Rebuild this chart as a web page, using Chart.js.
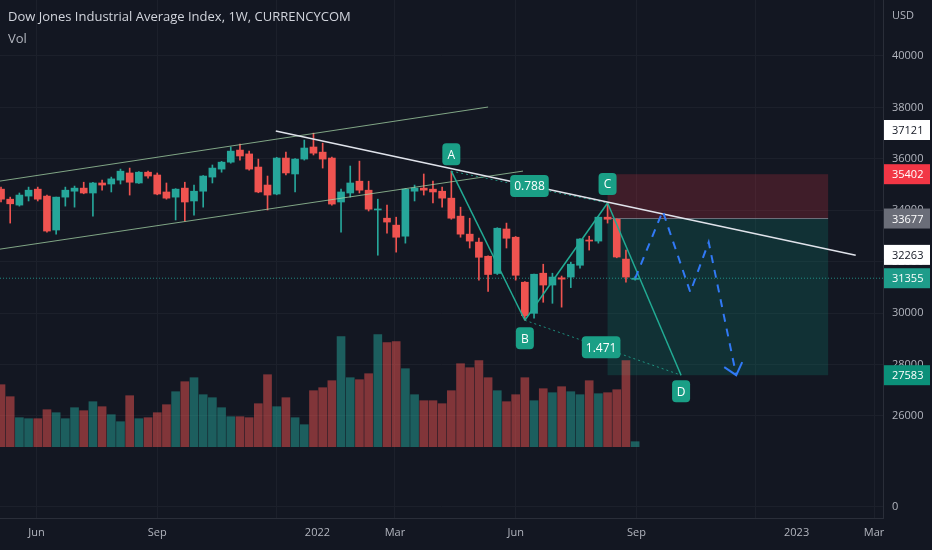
<!DOCTYPE html>
<html>
<head>
<meta charset="utf-8">
<title>Dow Jones 1W</title>
<script src="https://cdn.jsdelivr.net/npm/chart.js@4.4.1/dist/chart.umd.min.js"></script>
<style>
    html, body { margin: 0; padding: 0; background: #131722; }
    #wrap { position: relative; width: 932px; height: 550px; }
</style>
</head>
<body>
<div id="wrap"><canvas id="DowChart"></canvas></div>
<script>
// weekly bars, bar 0 sits on this date on the time axis
const firstWeek = Date.UTC(2021, 4, 5);

const opens = [
    34820, 34430, 34200, 34550, 34820, 34550, 33230, 34510, 34740, 34860,
    34670, 35060, 35020, 35170, 35450, 35060, 35480, 35370, 34710, 34510,
    34860, 34360, 34740, 35290, 35600, 35870, 36340, 36190, 35680, 34980,
    34630, 36030, 35410, 35990, 36460, 36260, 36030, 34320, 34670, 35130,
    34780, 34010, 33690, 33420, 32990, 34740, 34860, 34820, 34740, 34470,
    33770, 33070, 32760, 32210, 31540, 33270, 32950, 31200, 29990, 31550,
    31090, 31370, 31400, 31860, 32840, 32800, 33730, 33650, 32100, 31310
];
const highs = [
    34900, 34510, 34670, 34900, 34900, 34590, 34510, 34900, 34940, 35090,
    35090, 35170, 35290, 35600, 35640, 35500, 35520, 35450, 35060, 34840,
    35090, 34980, 35350, 35760, 35900, 36460, 36570, 36300, 35990, 35330,
    36060, 36260, 36010, 36730, 37000, 36610, 36070, 34820, 35720, 35910,
    35130, 34430, 34200, 33730, 34840, 34980, 35410, 35130, 34900, 35520,
    34120, 33690, 32920, 32230, 33320, 33500, 32980, 31220, 31520, 31900,
    31550, 31440, 31980, 32900, 32990, 33750, 34280, 33670, 32450, 31420
];
const lows = [
    34320, 33500, 34160, 34360, 34360, 33150, 33070, 34160, 34120, 34640,
    33770, 34780, 34710, 35020, 34590, 35040, 35250, 34600, 34430, 33620,
    33580, 33810, 34120, 35060, 35480, 35830, 35950, 35560, 34680, 34010,
    34600, 35370, 34710, 35950, 36150, 35640, 34200, 33150, 34510, 34670,
    33970, 32250, 33110, 32370, 32720, 34360, 34590, 34280, 34120, 33650,
    32950, 32530, 31280, 30840, 31500, 32530, 31280, 29720, 29800, 30420,
    30380, 30230, 30990, 31750, 32450, 32720, 33500, 32150, 31200, 31280
];
const closes = [
    34430, 34250, 34590, 34780, 34430, 33190, 34510, 34780, 34860, 34670,
    35060, 34980, 35220, 35520, 35090, 35480, 35330, 34630, 34470, 34820,
    34320, 34740, 35330, 35640, 35870, 36300, 36110, 35600, 34710, 34590,
    36030, 35450, 35990, 36420, 36220, 35990, 34240, 34710, 35060, 34780,
    34040, 34050, 33540, 32950, 34820, 34860, 34780, 34710, 34470, 33690,
    33070, 32800, 32170, 31500, 33300, 32910, 31470, 29900, 31510, 31090,
    31400, 31320, 31900, 32880, 32800, 33730, 33650, 32180, 31400, 31355
];
const volumes = [
    62, 50, 29, 28, 28, 37, 34, 28, 39, 36,
    45, 40, 32, 25, 51, 28, 29, 34, 42, 55,
    65, 69, 52, 49, 39, 30, 30, 29, 43, 72,
    40, 49, 29, 22, 56, 59, 66, 110, 69, 67,
    73, 112, 104, 105, 78, 52, 46, 46, 43, 56,
    83, 79, 86, 69, 56, 45, 52, 69, 46, 58,
    54, 60, 55, 52, 66, 53, 54, 57, 86, 5
];

// time axis: label and whether a grid line is drawn there
const timeTicks = [
    { date: "2021-06-01", label: "Jun", grid: true },
    { date: "2021-09-01", label: "Sep", grid: true },
    { date: "2021-12-01", label: "", grid: true },
    { date: "2022-01-01", label: "2022", grid: false },
    { date: "2022-03-01", label: "Mar", grid: true },
    { date: "2022-06-01", label: "Jun", grid: true },
    { date: "2022-09-01", label: "Sep", grid: true },
    { date: "2022-12-01", label: "", grid: true },
    { date: "2023-01-01", label: "2023", grid: false },
    { date: "2023-03-01", label: "Mar", grid: true }
];
const priceTicks = [26000, 28000, 30000, 32000, 34000, 36000, 38000, 40000];
const zeroTick = 22480; // the stray "0" line under the volume pane

// tags on the price axis
const axisTags = [
    { value: 37121, bg: "#ffffff", fg: "#131722" },
    { value: 35402, bg: "#f23645", fg: "#ffffff" },
    { value: 33677, bg: "#6a6d78", fg: "#ffffff" },
    { value: 32263, bg: "#ffffff", fg: "#131722" },
    { value: 31355, bg: "#1e9c8a", fg: "#ffffff" },
    { value: 27583, bg: "#0b9079", fg: "#ffffff" }
];
const lastPrice = 31355;

// drawings, in [bar index, price]
const channelTop = [[-0.11, 35134], [53.0, 38015]];
const channelBottom = [[-0.11, 32487], [56.8, 35523]];
const trendLine = [[29.9, 37080], [93.0, 32253]];
const patternNames = ["A", "B", "C", "D"];
const patternPoints = [[49, 35520], [57, 29720], [66, 34280], [74, 27583]];
const ratioTags = [
    { text: "0.788", at: [57.5, 34940] },
    { text: "1.471", at: [65.3, 28670] }
];
const shortPosition = { from: 66, to: 90, stop: 35402, entry: 33677, target: 27583 };
const projection = [[69, 31345], [72, 33966], [75, 30813], [77, 32759], [80, 27583]];

const upColor = "#26a69a";
const downColor = "#ef5350";
const tagGreen = "#1a9f86";

const weekOf = (d) => (Date.parse(d) - firstWeek) / (7 * 864e5);
const isUp = (i) => closes[i] >= opens[i];

const wickData = opens.map((o, i) => ({ x: i, y: [lows[i], highs[i]] }));
const bodyData = opens.map((o, i) => ({ x: i, y: [o, closes[i]] }));
const volData = volumes.map((v, i) => ({ x: i, y: v }));
const candleColors = opens.map((o, i) => isUp(i) ? upColor : downColor);
const volColors = opens.map((o, i) => isUp(i) ? "rgba(38,166,154,0.5)" : "rgba(239,83,80,0.5)");

function px(chart, p) {
    return [chart.scales.x.getPixelForValue(p[0]), chart.scales.y.getPixelForValue(p[1])];
}

function line(ctx, a, b, color, width, dash) {
    ctx.save();
    ctx.strokeStyle = color;
    ctx.lineWidth = width;
    ctx.setLineDash(dash || []);
    ctx.beginPath();
    ctx.moveTo(a[0], a[1]);
    ctx.lineTo(b[0], b[1]);
    ctx.stroke();
    ctx.restore();
}

function tag(ctx, text, cx, cy, bg) {
    ctx.save();
    ctx.font = "12px 'Open Sans'";
    const w = Math.max(18, ctx.measureText(text).width + 8);
    const h = 22;
    ctx.fillStyle = bg;
    ctx.beginPath();
    ctx.roundRect(cx - w / 2, cy - h / 2, w, h, 4);
    ctx.fill();
    ctx.fillStyle = "#ffffff";
    ctx.textAlign = "center";
    ctx.textBaseline = "middle";
    ctx.fillText(text, cx, cy + 1);
    ctx.restore();
}

const overlays = {
    id: "overlays",
    beforeDatasetsDraw(chart) {
        const ctx = chart.ctx;
        const area = chart.chartArea;
        const x = chart.scales.x;
        const y = chart.scales.y;
        const left = x.getPixelForValue(shortPosition.from);
        const right = x.getPixelForValue(shortPosition.to);
        const yStop = y.getPixelForValue(shortPosition.stop);
        const yEntry = y.getPixelForValue(shortPosition.entry);
        const yTarget = y.getPixelForValue(shortPosition.target);

        ctx.save();
        ctx.fillStyle = "rgba(242,54,69,0.2)";
        ctx.fillRect(left, yStop, right - left, yEntry - yStop);
        ctx.fillStyle = "rgba(8,153,129,0.2)";
        ctx.fillRect(left, yEntry, right - left, yTarget - yEntry);
        ctx.restore();
        line(ctx, [left, yEntry], [right, yEntry], "rgba(120,123,134,0.9)", 1);

        const yLast = y.getPixelForValue(lastPrice);
        line(ctx, [area.left, yLast], [area.right, yLast], "rgba(38,166,154,0.8)", 1, [1, 2]);
    },
    afterDatasetsDraw(chart) {
        const ctx = chart.ctx;
        const area = chart.chartArea;
        ctx.save();
        ctx.beginPath();
        ctx.rect(area.left, area.top, area.right - area.left, area.bottom - area.top);
        ctx.clip();

        line(ctx, px(chart, channelTop[0]), px(chart, channelTop[1]), "rgba(165,214,167,0.75)", 1);
        line(ctx, px(chart, channelBottom[0]), px(chart, channelBottom[1]), "rgba(165,214,167,0.75)", 1);

        // harmonic ABCD
        const pts = patternPoints.map(p => px(chart, p));
        line(ctx, pts[0], pts[2], "rgba(34,171,148,0.8)", 1, [2, 3]);
        line(ctx, pts[1], pts[3], "rgba(34,171,148,0.8)", 1, [2, 3]);
        for (let i = 0; i < 3; i++) {
            line(ctx, pts[i], pts[i + 1], "#22ab94", 1.5);
        }

        line(ctx, px(chart, trendLine[0]), px(chart, trendLine[1]), "#e0e3eb", 1.5);

        // projected path
        const path = projection.map(p => px(chart, p));
        ctx.save();
        ctx.strokeStyle = "#3179f5";
        ctx.lineWidth = 2;
        ctx.setLineDash([8, 7]);
        ctx.beginPath();
        path.forEach((p, i) => i ? ctx.lineTo(p[0], p[1]) : ctx.moveTo(p[0], p[1]));
        ctx.stroke();
        ctx.setLineDash([]);
        const end = path[path.length - 1];
        ctx.beginPath();
        ctx.moveTo(end[0] - 12, end[1] - 8);
        ctx.lineTo(end[0], end[1]);
        ctx.lineTo(end[0] + 6, end[1] - 13);
        ctx.stroke();
        ctx.restore();

        const offsets = [-17, 18, -19, 16];
        pts.forEach((p, i) => tag(ctx, patternNames[i], p[0], p[1] + offsets[i], tagGreen));
        ratioTags.forEach(r => {
            const p = px(chart, r.at);
            tag(ctx, r.text, p[0], p[1], tagGreen);
        });
        ctx.restore();
    },
    afterDraw(chart) {
        const ctx = chart.ctx;
        const y = chart.scales.y;
        const axisLeft = chart.chartArea.right;

        ctx.save();
        ctx.font = "11px 'Open Sans'";
        ctx.textBaseline = "middle";
        axisTags.forEach(t => {
            const cy = y.getPixelForValue(t.value);
            ctx.fillStyle = t.bg;
            ctx.fillRect(axisLeft + 1, cy - 10, 46, 20);
            ctx.fillStyle = t.fg;
            ctx.textAlign = "left";
            ctx.fillText(String(t.value), axisLeft + 9, cy + 1);
        });

        ctx.fillStyle = "#b2b5be";
        ctx.fillText("USD", axisLeft + 9, 16);

        ctx.font = "13px 'Open Sans'";
        ctx.fillStyle = "#d1d4dc";
        ctx.fillText("Dow Jones Industrial Average Index, 1W, CURRENCYCOM", 8, 17);
        ctx.fillStyle = "#b2b5be";
        ctx.fillText("Vol", 8, 39);
        ctx.restore();
    }
};

Chart.defaults.font.family = "'Open Sans', sans-serif";

const ctx = document.getElementById("DowChart").getContext("2d");
const dowChart = new Chart(ctx, {
    type: "bar",
    data: {
        datasets: [
            {
                label: "Volume",
                data: volData,
                yAxisID: "yv",
                backgroundColor: volColors,
                barThickness: 8,
                grouped: false,
                order: 3
            },
            {
                label: "Wicks",
                data: wickData,
                backgroundColor: candleColors,
                barThickness: 1,
                grouped: false,
                order: 2
            },
            {
                label: "Bodies",
                data: bodyData,
                backgroundColor: candleColors,
                barThickness: 7,
                minBarLength: 1,
                grouped: false,
                order: 1
            }
        ]
    },
    options: {
        responsive: true,
        maintainAspectRatio: false,
        animation: false,
        layout: { padding: 0 },
        plugins: {
            legend: { display: false },
            tooltip: { enabled: false }
        },
        scales: {
            x: {
                type: "linear",
                min: -0.11,
                max: 95.97,
                offset: false,
                afterBuildTicks: (s) => {
                    s.ticks = timeTicks.map(t => ({ value: weekOf(t.date) }));
                },
                afterFit: (s) => {
                    s.height = 32;
                    s.paddingLeft = 0;
                    s.paddingRight = 0;
                },
                ticks: {
                    autoSkip: false,
                    maxRotation: 0,
                    padding: 8,
                    color: "#b2b5be",
                    font: { size: 11 },
                    callback: (v, i) => timeTicks[i].label
                },
                grid: {
                    offset: false,
                    drawTicks: false,
                    color: (c) => (c.index !== undefined && timeTicks[c.index] && timeTicks[c.index].grid) ? "#1c202b" : "rgba(0,0,0,0)"
                },
                border: { display: true, color: "#2a2e39" }
            },
            y: {
                position: "right",
                min: 22028,
                max: 42178,
                afterBuildTicks: (s) => {
                    s.ticks = [zeroTick].concat(priceTicks).map(v => ({ value: v }));
                },
                afterFit: (s) => {
                    s.width = 49;
                    s.paddingTop = 0;
                    s.paddingBottom = 0;
                },
                ticks: {
                    padding: 9,
                    color: "#b2b5be",
                    font: { size: 11 },
                    callback: (v) => v === zeroTick ? "0" : String(v)
                },
                grid: { drawTicks: false, color: "#1c202b" },
                border: { display: true, color: "#2a2e39" }
            },
            yv: {
                display: false,
                min: -71.3,
                max: 446.7
            }
        }
    },
    plugins: [overlays]
});
</script>
</body>
</html>
